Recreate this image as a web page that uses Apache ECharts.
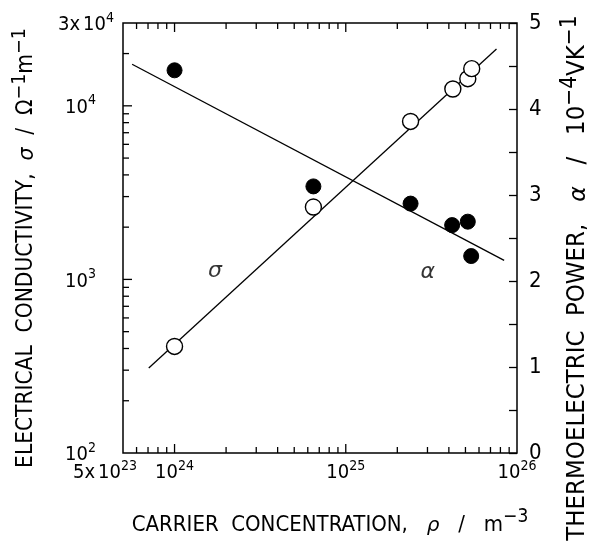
<!DOCTYPE html>
<html><head><meta charset="utf-8">
<script src="https://cdn.jsdelivr.net/npm/echarts@6/dist/echarts.min.js"></script>
<style>html,body{margin:0;padding:0;background:#fff}#c{width:596px;height:542px}</style>
</head><body><div id="c"></div>
<script>
// ---- data ----
const sigmaX = [1.0e24, 6.47e24, 2.39e25, 4.22e25, 5.16e25, 5.44e25];
const sigmaY = [411, 2612, 8128, 12500, 14330, 16370];
const alphaX = [1.0e24, 6.47e24, 2.39e25, 4.18e25, 5.16e25, 5.40e25];
const alphaY = [4.45, 3.10, 2.90, 2.65, 2.69, 2.29];
const sigmaFitX = [7.07e23, 7.59e25];
const sigmaFitY = [309, 21240];
const alphaFitX = [5.65e23, 8.41e25];
const alphaFitY = [4.52, 2.24];
const xMajorTicks = [1e24, 1e25];
const xMinorTicks = [6e23, 7e23, 8e23, 9e23, 2e24, 3e24, 4e24, 5e24, 6e24, 7e24, 8e24, 9e24,
                     2e25, 3e25, 4e25, 5e25, 6e25, 7e25, 8e25, 9e25];
const yMajorTicks = [1e3, 1e4];
const yMinorTicks = [200, 300, 400, 500, 600, 700, 800, 900,
                     2000, 3000, 4000, 5000, 6000, 7000, 8000, 9000, 20000];
const X_MIN = 5e23, X_MAX = 1e26, Y_MIN = 100, Y_MAX = 30000;
const A_MIN = 0, A_MAX = 5;
const curveLabels = [{text: 'σ', x: 1.72e24, y: 1107}, {text: 'α', x: 3.01e25, y: 1093}];

const FONT = "'Liberation Sans Narrow', 'DejaVu Sans Condensed', 'Liberation Sans', sans-serif";
function titleRich(size) {
  return {
    t: {fontFamily: FONT, fontSize: size, color: '#000', lineHeight: size + 6, verticalAlign: 'bottom'},
    ts: {fontFamily: FONT, fontSize: size - 3, color: '#000', lineHeight: 14, verticalAlign: 'top'},
    ti: {fontFamily: "'DejaVu Sans', sans-serif", fontStyle: 'italic', fontSize: size - 2, color: '#000', lineHeight: size + 6, verticalAlign: 'bottom'},
    p20: {width: 20},
    p80: {width: 80}
  };
}
const rich = {
  b: {fontFamily: FONT, fontSize: 20, color: '#000', lineHeight: 24, verticalAlign: 'bottom'},
  s: {fontFamily: FONT, fontSize: 14, color: '#000', lineHeight: 14, verticalAlign: 'top'},
  sp: {width: 3},
  g: {width: 36},
  yg: {width: 18}
};

// mode: 'xmin' adds a right gap, 'y' adds a right gap to plain powers of ten
function powLabel(v, mode) {
  const e = Math.floor(Math.log10(v) + 1e-6);
  const m = Math.round(v / Math.pow(10, e));
  let s = (m === 1 ? '{b|10}' : '{b|' + m + 'x}{sp|}{b|10}') + '{s|' + e + '}';
  if (mode === 'xmin') s += '{g|}';
  if (mode === 'y' && m === 1) s += '{yg|}';
  return s;
}

function tickSeries(vals, dir, len) {
  return {
    type: 'custom', xAxisIndex: 0, yAxisIndex: 0, silent: true, clip: false, z: 5,
    data: vals.map(v => dir === 'x' ? [v, Y_MIN] : [X_MIN, v]),
    renderItem(params, api) {
      const st = {stroke: '#000', lineWidth: 1.3};
      if (dir === 'x') {
        const v = api.value(0);
        const p0 = api.coord([v, Y_MIN]);
        const p1 = api.coord([v, Y_MAX]);
        return {type: 'group', children: [
          {type: 'line', shape: {x1: p0[0], y1: p0[1], x2: p0[0], y2: p0[1] - len}, style: st},
          {type: 'line', shape: {x1: p1[0], y1: p1[1], x2: p1[0], y2: p1[1] + len}, style: st}
        ]};
      } else {
        const v = api.value(1);
        const p0 = api.coord([X_MIN, v]);
        return {type: 'line', shape: {x1: p0[0], y1: p0[1], x2: p0[0] + len, y2: p0[1]}, style: st};
      }
    }
  };
}

const chart = echarts.init(document.getElementById('c'), null, {renderer: 'canvas'});
chart.setOption({
  animation: false,
  backgroundColor: '#fff',
  grid: {left: 123, top: 23, width: 394, height: 430, show: true, borderColor: '#000', borderWidth: 1.5,
    backgroundColor: 'transparent', containLabel: false, outerBoundsMode: 'none'},
  xAxis: {
    type: 'log', logBase: 10, min: X_MIN, max: X_MAX,
    axisLine: {show: false}, axisTick: {show: false}, splitLine: {show: false},
    axisLabel: {
      margin: 6, hideOverlap: false, showMinLabel: true, showMaxLabel: true,
      formatter: v => powLabel(v, Math.abs(v - X_MIN) / X_MIN < 0.01 ? 'xmin' : 'x'), rich: rich
    },
    name: '{p20|}{t|CARRIER  CONCENTRATION,   }{ti|ρ}{t|   /   m}{ts|−3}',
    nameLocation: 'middle', nameGap: 55,
    nameTextStyle: {rich: titleRich(22)}
  },
  yAxis: [{
    type: 'log', logBase: 10, min: Y_MIN, max: Y_MAX, position: 'left',
    axisLine: {show: false}, axisTick: {show: false}, splitLine: {show: false},
    axisLabel: {margin: 9, align: 'right', hideOverlap: false, showMinLabel: true, showMaxLabel: true,
      formatter: v => powLabel(v, 'y'), rich: rich},
    name: '{t|ELECTRICAL  CONDUCTIVITY,  }{ti|σ}{t|  /  Ω}{ts|−1}{t|m}{ts|−1}{p20|}',
    nameLocation: 'middle', nameGap: 85, nameRotate: 90,
    nameTextStyle: {rich: titleRich(22.5)}
  }, {
    type: 'value', min: A_MIN, max: A_MAX, interval: 0.5, position: 'right',
    axisLine: {show: false}, splitLine: {show: false},
    axisTick: {show: true, inside: true, length: 8, lineStyle: {color: '#000', width: 1.3}},
    axisLabel: {margin: 12, fontFamily: FONT, fontSize: 22, color: '#000',
      formatter: v => (Math.abs(v - Math.round(v)) < 1e-6 ? String(Math.round(v)) : '')},
    name: '{t|THERMOELECTRIC  POWER,   }{ti|α}{t|   /   10}{ts|−4}{t|VK}{ts|−1}{p80|}',
    nameLocation: 'middle', nameGap: 42, nameRotate: 90,
    nameTextStyle: {rich: titleRich(25.5)}
  }],
  series: [
    {type: 'line', name: 'σ fit', xAxisIndex: 0, yAxisIndex: 0, symbol: 'none', silent: true,
      lineStyle: {color: '#000', width: 1.3}, data: sigmaFitX.map((x, i) => [x, sigmaFitY[i]]), z: 2},
    {type: 'line', name: 'α fit', xAxisIndex: 0, yAxisIndex: 1, symbol: 'none', silent: true,
      lineStyle: {color: '#000', width: 1.3}, data: alphaFitX.map((x, i) => [x, alphaFitY[i]]), z: 2},
    {type: 'scatter', name: 'σ', xAxisIndex: 0, yAxisIndex: 0, symbol: 'circle', symbolSize: 16,
      itemStyle: {color: '#fff', borderColor: '#000', borderWidth: 1.4, opacity: 1},
      data: sigmaX.map((x, i) => [x, sigmaY[i]]), z: 4},
    {type: 'scatter', name: 'α', xAxisIndex: 0, yAxisIndex: 1, symbol: 'circle', symbolSize: 15,
      itemStyle: {color: '#000', borderColor: '#000', borderWidth: 1, opacity: 1},
      data: alphaX.map((x, i) => [x, alphaY[i]]), z: 4},
    {type: 'scatter', name: 'labels', xAxisIndex: 0, yAxisIndex: 0, symbol: 'circle', symbolSize: 2, silent: true,
      itemStyle: {color: 'rgba(0,0,0,0)'},
      data: curveLabels.map(d => ({value: [d.x, d.y], label: {formatter: d.text}})),
      label: {show: true, position: 'inside', fontFamily: "'DejaVu Sans', sans-serif", fontStyle: 'italic', fontSize: 22, color: '#000'}, z: 6},
    tickSeries(xMajorTicks, 'x', 9),
    tickSeries(xMinorTicks, 'x', 6),
    tickSeries(yMajorTicks, 'y', 9),
    tickSeries(yMinorTicks, 'y', 6)
  ]
});
</script></body></html>
